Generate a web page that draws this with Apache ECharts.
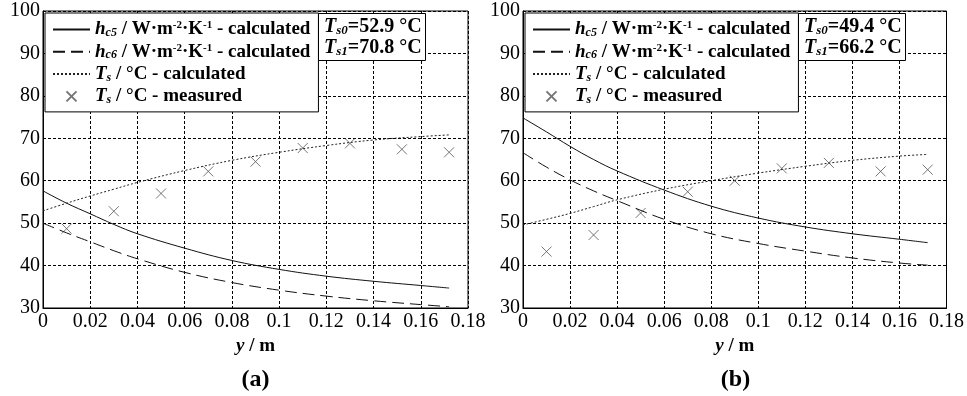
<!DOCTYPE html>
<html>
<head>
<meta charset="utf-8">
<script src="https://cdn.jsdelivr.net/npm/echarts@6/dist/echarts.min.js"></script>
<style>
  html, body { margin: 0; padding: 0; background: #fff; }
  #chart { width: 967px; height: 396px; }
</style>
</head>
<body>
<div id="chart"></div>
<script>
// position along the wall y / m
var yCalc = [0, 0.01, 0.02, 0.03, 0.04, 0.06, 0.08, 0.10, 0.12, 0.14, 0.16, 0.172];
var yMeas = [0.01, 0.03, 0.05, 0.07, 0.09, 0.11, 0.13, 0.152, 0.172];

// panel (a)
var hc5A = [57.6, 54.7, 52.2, 49.7, 47.5, 44.1, 41.2, 39.1, 37.5, 36.3, 35.3, 34.7];
var hc6A = [50.0, 47.7, 45.6, 43.5, 41.6, 38.4, 36.0, 34.2, 32.8, 31.7, 30.8, 30.3];
var tsCalcA = [52.9, 54.7, 56.4, 58.0, 59.6, 62.4, 64.8, 66.7, 68.3, 69.6, 70.4, 70.8];
var tsMeasA = [48.7, 52.8, 57.0, 62.2, 64.5, 67.7, 68.8, 67.4, 66.7];

// panel (b)
var hc5B = [74.8, 71.5, 68.1, 65.0, 62.3, 57.8, 54.0, 51.2, 49.1, 47.5, 46.2, 45.4];
var hc6B = [66.6, 63.2, 60.2, 57.6, 55.3, 50.9, 47.5, 45.2, 43.4, 41.8, 40.6, 40.1];
var tsCalcB = [49.6, 50.9, 52.3, 53.9, 55.5, 58.0, 60.0, 61.8, 63.4, 64.8, 65.8, 66.2];
var tsMeasB = [43.3, 47.2, 52.4, 57.4, 60.0, 62.9, 64.2, 62.2, 62.6];

var yTicks = [30, 40, 50, 60, 70, 80, 90, 100];
var tsText = [['52.9', '70.8'], ['49.4', '66.2']];
var panelNames = ['(a)', '(b)'];

var SERIF = '"Liberation Serif", "Times New Roman", serif';

function pairs(xs, vs) {
  return xs.map(function (x, i) { return [x, vs[i]]; });
}

var grids = [
  { left: 43, top: 11, width: 425, height: 297 },
  { left: 523, top: 11, width: 425, height: 297 }
];

var legendRich = {
  i: { fontFamily: SERIF, fontSize: 19, fontWeight: 'bold', fontStyle: 'italic', color: '#000', lineHeight: 19 },
  s: { fontFamily: SERIF, fontSize: 12, fontWeight: 'bold', fontStyle: 'italic', color: '#000', lineHeight: 19, verticalAlign: 'bottom' },
  p: { fontFamily: SERIF, fontSize: 11, fontWeight: 'bold', color: '#000', lineHeight: 19, verticalAlign: 'top' },
  b: { fontFamily: SERIF, fontSize: 19, fontWeight: 'bold', color: '#000', lineHeight: 19 }
};

var legendLabels = {
  hc5: '{i|h}{s|c5}{b| / W·m}{p|-2}{b|·K}{p|-1}{b| - calculated}',
  hc6: '{i|h}{s|c6}{b| / W·m}{p|-2}{b|·K}{p|-1}{b| - calculated}',
  tsc: '{i|T}{s|s}{b| / °C - calculated}',
  tsm: '{i|T}{s|s}{b| / °C - measured}'
};

// hide the default circle drawn on line legend icons
var noDot = { opacity: 0 };
var legendData = [
  { name: 'hc5', itemStyle: noDot },
  { name: 'hc6', itemStyle: noDot },
  { name: 'tsc', itemStyle: noDot },
  { name: 'tsm' }
];

var option = {
  backgroundColor: '#fff',
  animation: false,
  grid: grids.map(function (g) {
    return Object.assign({ show: true, borderColor: '#000', borderWidth: 1, backgroundColor: '#fff' }, g);
  }),
  xAxis: [0, 1].map(function (k) {
    return {
      gridIndex: k,
      type: 'value',
      min: 0,
      max: 0.18,
      interval: 0.02,
      name: '{i|y}{b| / m}',
      nameLocation: 'middle',
      nameGap: 23,
      nameTextStyle: {
        rich: {
          i: { fontFamily: SERIF, fontSize: 19, fontWeight: 'bold', fontStyle: 'italic', color: '#000' },
          b: { fontFamily: SERIF, fontSize: 19, fontWeight: 'bold', color: '#000' }
        }
      },
      axisLine: { show: true, lineStyle: { color: '#000', width: 1 } },
      axisTick: { show: false },
      axisLabel: {
        margin: 4,
        fontFamily: SERIF,
        fontSize: 20,
        color: '#000',
        formatter: function (v) { return String(+v.toFixed(2)); }
      },
      splitLine: { show: true, lineStyle: { color: '#000', width: 1, type: [3, 2] } }
    };
  }),
  yAxis: [0, 1].map(function (k) {
    return {
      gridIndex: k,
      type: 'value',
      min: yTicks[0],
      max: yTicks[yTicks.length - 1],
      interval: 10,
      axisLine: { show: true, lineStyle: { color: '#000', width: 1 } },
      axisTick: { show: false },
      axisLabel: { margin: 3, fontFamily: SERIF, fontSize: 20, color: '#000' },
      splitLine: { show: true, lineStyle: { color: '#000', width: 1, type: [3, 2] } }
    };
  }),
  legend: [0, 1].map(function (k) {
    return {
      data: legendData,
      orient: 'vertical',
      left: grids[k].left + 2,
      top: 13,
      itemWidth: 37,
      itemHeight: 10,
      itemGap: 3.3,
      padding: [7, 8, 6, 7],
      backgroundColor: '#fff',
      borderColor: '#000',
      borderWidth: 1,
      borderRadius: 0,
      formatter: function (n) { return legendLabels[n]; },
      textStyle: { rich: legendRich }
    };
  }),
  title: [0, 1].map(function (k) {
    return {
      left: grids[k].left + 275,
      top: 13,
      padding: [3, 4, 3, 6],
      backgroundColor: '#fff',
      borderColor: '#000',
      borderWidth: 1,
      text: '{i|T}{s|s0}{b|=' + tsText[k][0] + ' °C}\n{i|T}{s|s1}{b|=' + tsText[k][1] + ' °C}',
      textStyle: {
        rich: {
          i: { fontFamily: SERIF, fontSize: 20, fontWeight: 'bold', fontStyle: 'italic', color: '#000', lineHeight: 21 },
          s: { fontFamily: SERIF, fontSize: 13, fontWeight: 'bold', fontStyle: 'italic', color: '#000', lineHeight: 21, verticalAlign: 'bottom' },
          b: { fontFamily: SERIF, fontSize: 20, fontWeight: 'bold', color: '#000', lineHeight: 21 }
        }
      }
    };
  }),
  graphic: [0, 1].map(function (k) {
    return {
      type: 'text',
      x: grids[k].left + grids[k].width / 2,
      y: 380,
      style: {
        text: panelNames[k],
        font: 'bold 24px ' + SERIF,
        fill: '#000',
        textAlign: 'center',
        textVerticalAlign: 'middle'
      }
    };
  }),
  series: []
};

var sets = [
  { hc5: hc5A, hc6: hc6A, tsc: tsCalcA, tsm: tsMeasA },
  { hc5: hc5B, hc6: hc6B, tsc: tsCalcB, tsm: tsMeasB }
];

sets.forEach(function (d, k) {
  option.series.push({
    name: 'hc5', type: 'line', xAxisIndex: k, yAxisIndex: k,
    data: pairs(yCalc, d.hc5), smooth: 0.4, symbol: 'none',
    lineStyle: { color: '#111', width: 1, type: 'solid' },
    itemStyle: { color: '#111' }
  });
  option.series.push({
    name: 'hc6', type: 'line', xAxisIndex: k, yAxisIndex: k,
    data: pairs(yCalc, d.hc6), smooth: 0.4, symbol: 'none',
    lineStyle: { color: '#111', width: 1, type: [12, 6] },
    itemStyle: { color: '#111' }
  });
  option.series.push({
    name: 'tsc', type: 'line', xAxisIndex: k, yAxisIndex: k,
    data: pairs(yCalc, d.tsc), smooth: 0.4, symbol: 'none',
    lineStyle: { color: '#222', width: 1, type: [2, 2] },
    itemStyle: { color: '#222' }
  });
  option.series.push({
    name: 'tsm', type: 'scatter', xAxisIndex: k, yAxisIndex: k,
    data: pairs(yMeas, d.tsm),
    symbol: 'path://M0,0L10,10M10,0L0,10',
    symbolSize: 10,
    itemStyle: { color: 'rgba(0,0,0,0)', borderColor: '#555', borderWidth: 1 }
  });
});

var chart = echarts.init(document.getElementById('chart'));
chart.setOption(option);
</script>
</body>
</html>
